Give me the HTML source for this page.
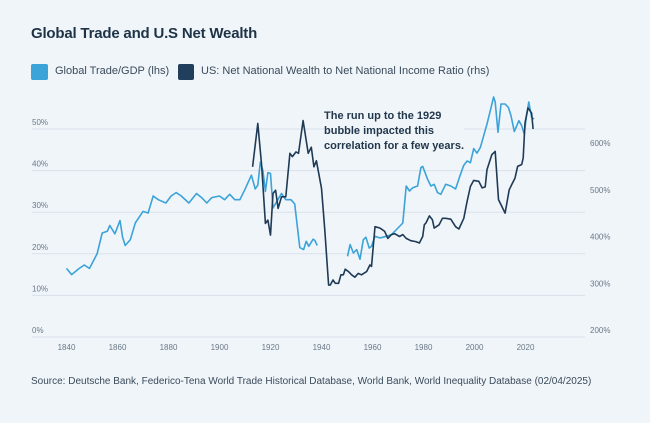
<!DOCTYPE html>
<html><head><meta charset="utf-8">
<style>
html,body{margin:0;padding:0;background:#f0f5fa;}
body{width:650px;height:423px;position:relative;overflow:hidden;font-family:"Liberation Sans",sans-serif;}
.t{position:absolute;white-space:nowrap;}
</style></head>
<body>
<svg id="c" width="650" height="423" style="position:absolute;left:0;top:0"></svg>
<div class="t" style="left:31px;top:25px;font-size:15px;font-weight:bold;color:#1f3347;letter-spacing:-0.2px">Global Trade and U.S Net Wealth</div>
<div style="position:absolute;left:31px;top:64px;width:17px;height:16px;border-radius:2px;background:#3ba3d8"></div>
<div class="t" style="left:55px;top:65px;font-size:11px;color:#3a4a5a">Global Trade/GDP (lhs)</div>
<div style="position:absolute;left:178px;top:64px;width:16px;height:16px;border-radius:2px;background:#1f3f5c"></div>
<div class="t" style="left:201px;top:65px;font-size:11px;color:#3a4a5a">US: Net National Wealth to Net National Income Ratio (rhs)</div>
<div class="t" style="left:324px;top:109px;font-size:11px;font-weight:bold;color:#23384c;line-height:15px;background:#f0f5fa">The run up to the 1929<br>bubble impacted this<br>correlation for a few years.</div>
<div class="t" style="left:31px;top:376px;font-size:10px;color:#3a4a5a">Source: Deutsche Bank, Federico-Tena World Trade Historical Database, World Bank, World Inequality Database (02/04/2025)</div>
<script>
const leftTicks=[0,10,20,30,40,50];
const rightTicks=[200,300,400,500,600];
const xTicks=[1840,1860,1880,1900,1920,1940,1960,1980,2000,2020];
const tradeYears1=[1840,1842,1845,1847,1849,1852,1854,1856,1857,1859,1861,1862,1863,1865,1867,1870,1872,1874,1876,1879,1881,1883,1885,1888,1891,1893,1895,1897,1900,1902,1904,1906,1908,1910,1912.5,1914,1915,1916,1917,1918,1919,1920,1921,1922.4,1924.3,1926,1928,1929.5,1931.5,1933,1934,1935,1936.7,1937.4,1938.3];
const tradeVals1=[16.5,15,16.5,17.3,16.5,20,25,25.4,26.8,24.8,28,24,22,23.4,27.4,30.2,29.8,33.9,33,32.2,33.9,34.7,33.9,32.2,34.5,33.5,32.2,33.5,33.9,33,34.3,33,33,35.5,38.9,35.6,36.5,42,40,35,39.5,39.3,31,32.5,34.5,33,33,32,21.5,21,23,21.8,23.5,23.2,22];
const tradeYears2=[1950.2,1951.2,1952.5,1953.8,1955.1,1956.4,1957.4,1958.7,1959.6,1961,1963,1965.4,1967.4,1970,1971.9,1973.2,1974.5,1975.8,1977.7,1979,1979.7,1981.6,1982.9,1984.2,1985.5,1986.8,1988.7,1990.7,1992.6,1994.5,1995.8,1997.1,1998.4,1999.7,2001,2002.3,2003.6,2004.9,2006.2,2007.5,2008.1,2009.2,2010.4,2012,2013.3,2014.3,2015.6,2017.4,2018.5,2019.5,2020.4,2021.3,2022.4,2023.4];
const tradeVals2=[19.4,22.2,20.2,21,18.7,23.4,24,21.4,21.8,24.2,23.8,24.2,24.6,26.2,27.4,36.3,35.1,35.9,36.3,40.7,41,37.9,36.3,36.7,34.7,34.3,36.7,36.3,35.6,39.1,41.3,42.3,41.9,45.3,44.2,45.6,48.4,51.2,54.4,57.7,56.5,49.2,56,56,55.2,53.2,49.4,52,50.8,48.8,53.2,56.5,52.8,52.4];
const wealthYears=[1913,1915,1916.5,1918,1919,1920,1921,1922,1923,1924.3,1926,1927.6,1928.6,1930,1931,1932.8,1934.8,1936,1937,1938,1940,1941.3,1942.8,1943.4,1944.5,1945.4,1946.7,1947.6,1948.6,1949.3,1950.6,1951.8,1953.1,1954.4,1955.7,1957.7,1959,1959.6,1961,1963,1964.8,1966,1967.4,1968.7,1970.6,1971.9,1973.2,1975,1977,1978.4,1979.7,1980.3,1981,1982.3,1983.5,1984.2,1986.1,1987.4,1988.7,1990.7,1992.6,1993.9,1995.8,1997.1,1998.4,1999.7,2001.7,2003,2004.2,2004.9,2006.8,2008.1,2009.4,2012,2013.6,2014.6,2015.9,2016.9,2018.5,2019.1,2019.8,2021,2022.4,2023];
const wealthVals=[549,642,553,428,435,403,492,499,460,485,485,578,571,581,578,648,578,591,549,562,503,414,296,296,307,300,300,318,318,330,325,318,313,321,318,325,339,336,421,418,411,396,404,406,400,404,396,391,389,386,400,425,429,444,436,418,425,439,439,437,421,416,439,475,507,520,518,504,506,543,575,582,479,450,500,511,525,550,554,568,643,675,664,630];

const svg=document.getElementById('c');const NS='http://www.w3.org/2000/svg';
const X=y=>66.5+(y-1840)*2.55;
const YL=v=>337-v*4.16;
const YR=r=>330-(r-200)*0.4675;
function mk(tag,attrs){const e=document.createElementNS(NS,tag);for(const k in attrs)e.setAttribute(k,attrs[k]);svg.appendChild(e);return e;}
leftTicks.forEach(v=>{
 const l=mk('line',{x1:32,x2:585,y1:YL(v),y2:YL(v),stroke:'#d9e1e9','stroke-width':1});
 
 
 const t=mk('text',{x:32,y:YL(v)-4,'font-size':8,fill:'#6b7885','font-family':'Liberation Sans'});
 t.textContent=v+'%';
 
 
});
rightTicks.forEach(v=>{
 const t=mk('text',{x:590,y:YR(v)+3,'font-size':8,fill:'#6b7885','font-family':'Liberation Sans'});
 t.textContent=v+'%';
 
 
});
xTicks.forEach(v=>{
 const t=mk('text',{x:X(v),y:350,'font-size':8,fill:'#6b7885','text-anchor':'middle','font-family':'Liberation Sans'});
 t.textContent=v;
 
 
});
function line(xs,vs,yf,col,name){
 const d=xs.map((x,i)=>(i?'L':'M')+X(x).toFixed(1)+' '+yf(vs[i]).toFixed(1)).join(' ');
 const p=mk('path',{d:d,fill:'none',stroke:col,'stroke-width':1.6,'stroke-linejoin':'round'});
 
 
}
line(tradeYears1,tradeVals1,YL,'#3ba3d8','trade-line-pre-war');
line(tradeYears2,tradeVals2,YL,'#3ba3d8','trade-line-post-war');
line(wealthYears,wealthVals,YR,'#1f3a55','wealth-line');
</script>
</body></html>
